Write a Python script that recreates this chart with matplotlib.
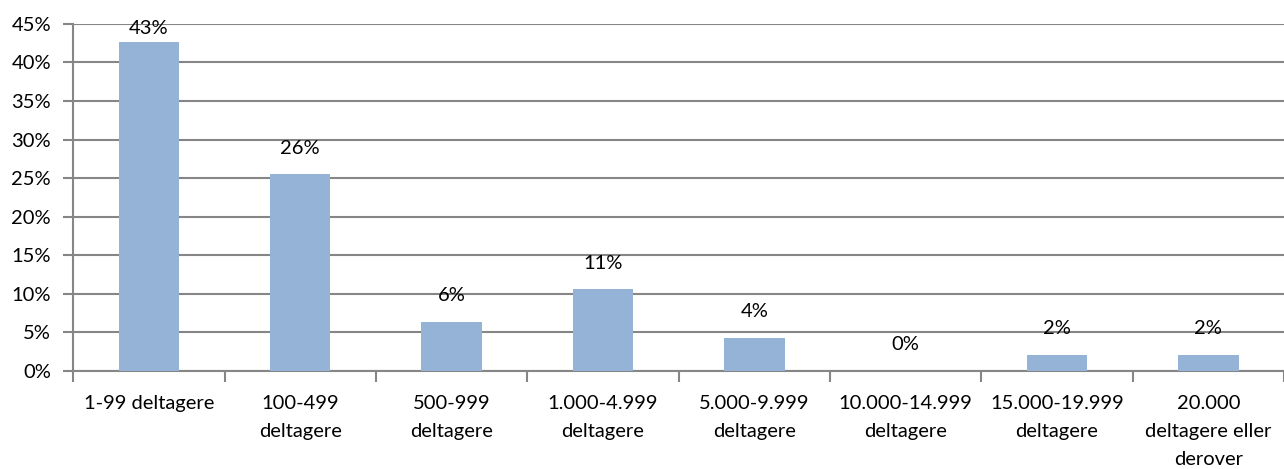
import numpy as np
import matplotlib.pyplot as plt

plt.rcParams["font.family"] = ["Lato", "DejaVu Sans"]

categories = ["1-99 deltagere", "100-499\ndeltagere", "500-999\ndeltagere",
              "1.000-4.999\ndeltagere", "5.000-9.999\ndeltagere",
              "10.000-14.999\ndeltagere", "15.000-19.999\ndeltagere",
              "20.000\ndeltagere eller\nderover"]
values = [42.6, 25.5, 6.4, 10.6, 4.3, 0.0, 2.1, 2.1]
labels = ["43%", "26%", "6%", "11%", "4%", "0%", "2%", "2%"]

grid_col = "#868686"
bar_col = "#95B3D7"
fs = 14.5

fig = plt.figure(figsize=(12.84, 4.69), dpi=100)
ax = fig.add_axes([0.057, 0.209, 0.943, 0.740])

x = np.arange(len(categories))
ax.bar(x, values, width=0.4, color=bar_col, zorder=3)

# data labels above bars (first one is pushed down by the plot top)
for xi, v, lab in zip(x, values, labels):
    ax.text(xi, min(v + 3.4, 44.4), lab, ha="center", va="center",
            fontsize=fs, color="black", zorder=4)

ax.set_xlim(-0.5, len(categories) - 0.5)
ax.set_ylim(0, 45)
ax.set_yticks(np.arange(0, 46, 5))
ax.set_yticklabels([f"{t}%" for t in range(0, 46, 5)])
ax.yaxis.grid(True, color=grid_col, linewidth=1.5, zorder=0)
ax.set_axisbelow(True)

ax.set_xticks(x)
ax.set_xticklabels(categories, linespacing=1.8)
ax.set_xticks(np.arange(-0.5, len(categories)), minor=True)
ax.tick_params(axis="x", which="major", length=0, pad=17, labelsize=fs)
ax.tick_params(axis="x", which="minor", length=8, width=1.5, color=grid_col)
ax.tick_params(axis="y", length=7, width=1.5, color=grid_col, labelsize=fs, pad=9)

for s in ["top", "right"]:
    ax.spines[s].set_visible(False)
for s in ["left", "bottom"]:
    ax.spines[s].set_color(grid_col)
    ax.spines[s].set_linewidth(1.5)

fig.savefig("out.png", dpi=100)
